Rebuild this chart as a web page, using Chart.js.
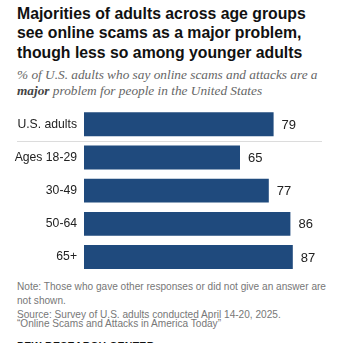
<!DOCTYPE html>
<html>
<head>
<meta charset="utf-8">
<script src="https://cdn.jsdelivr.net/npm/chart.js@4/dist/chart.umd.min.js"></script>
<style>
    html, body { margin: 0; padding: 0; background: #fff; }
    body { width: 346px; height: 343px; position: relative; overflow: hidden; }
    .title {
        position: absolute; left: 17px; top: 4px; width: 329px; white-space: nowrap;
        font-family: "Liberation Sans", Arial, sans-serif; font-weight: bold;
        font-size: 15.8px; line-height: 19.3px; color: #111;
    }
    .subtitle {
        position: absolute; left: 17px; top: 67px; width: 329px; white-space: nowrap;
        font-family: "Liberation Serif", Georgia, serif; font-style: italic;
        font-size: 13.3px; line-height: 15.5px; color: #666;
    }
    .subtitle b { color: #444; }
    .note {
        position: absolute; left: 17px; white-space: nowrap;
        font-family: "Liberation Sans", Arial, sans-serif;
        font-size: 10.1px; color: #777;
    }
    .pew {
        position: absolute; left: 17px; top: 339.5px;
        font-family: "Liberation Sans", Arial, sans-serif; font-weight: bold;
        font-size: 10.5px; color: #111; letter-spacing: 0.3px;
    }
    #wrap { position: absolute; left: 0; top: 100px; width: 346px; height: 180px; }
</style>
</head>
<body>
<div class="title">Majorities of adults across age groups<br>see online scams as a major problem,<br>though less so among younger adults</div>
<div class="subtitle">% of U.S. adults who say online scams and attacks are a<br><b>major</b> problem for people in the United States</div>
<div id="wrap"><canvas id="chart"></canvas></div>
<div class="note" style="top:281px">Note: Those who gave other responses or did not give an answer are</div>
<div class="note" style="top:295px">not shown.</div>
<div class="note" style="top:308.5px">Source: Survey of U.S. adults conducted April 14-20, 2025.</div>
<div class="note" style="top:318px">“Online Scams and Attacks in America Today”</div>
<div class="pew">PEW RESEARCH CENTER</div>

<script>
// Data
const categories = ['U.S. adults', 'Ages 18-29', '30-49', '50-64', '65+'];
const shareMajor = [79, 65, 77, 86, 87];

const BAR_COLOR = '#1f4a7d';
const TEXT_COLOR = '#222';

// value labels at the end of each bar
const valueLabels = {
    id: 'valueLabels',
    afterDatasetsDraw(chart) {
        const ctx = chart.ctx;
        const meta = chart.getDatasetMeta(0);
        ctx.save();
        ctx.font = '13px "Liberation Sans", Arial, sans-serif';
        ctx.fillStyle = TEXT_COLOR;
        ctx.textAlign = 'left';
        ctx.textBaseline = 'middle';
        meta.data.forEach((bar, i) => {
            ctx.fillText(shareMajor[i], bar.x + 8, bar.y + 1);
        });
        ctx.restore();
    }
};

// thin rule between the total and the age groups
const separator = {
    id: 'separator',
    beforeDatasetsDraw(chart) {
        const y = chart.scales.y;
        const ctx = chart.ctx;
        const yy = Math.round((y.getPixelForValue(0) + y.getPixelForValue(1)) / 2) + 0.5;
        ctx.save();
        ctx.strokeStyle = '#dcdcdc';
        ctx.lineWidth = 1;
        ctx.beginPath();
        ctx.moveTo(17, yy);
        ctx.lineTo(chart.chartArea.right - 2, yy);
        ctx.stroke();
        ctx.restore();
    }
};

const ctx = document.getElementById('chart').getContext('2d');
new Chart(ctx, {
    type: 'bar',
    data: {
        labels: categories,
        datasets: [{
            data: shareMajor,
            backgroundColor: BAR_COLOR,
            barPercentage: 0.72,
            categoryPercentage: 1
        }]
    },
    options: {
        indexAxis: 'y',
        responsive: true,
        maintainAspectRatio: false,
        animation: false,
        layout: { padding: { top: 7.6, bottom: 5.3, left: 0, right: 22 } },
        plugins: {
            legend: { display: false },
            tooltip: { enabled: false }
        },
        scales: {
            x: {
                display: false,
                min: 0,
                max: 100
            },
            y: {
                grid: { display: false },
                border: { display: false },
                afterFit: (scale) => { scale.width = 84; },
                ticks: {
                    padding: -1,
                    color: TEXT_COLOR,
                    font: { family: '"Liberation Sans", Arial, sans-serif', size: 12.2 }
                }
            }
        }
    },
    plugins: [valueLabels, separator]
});
</script>
</body>
</html>
